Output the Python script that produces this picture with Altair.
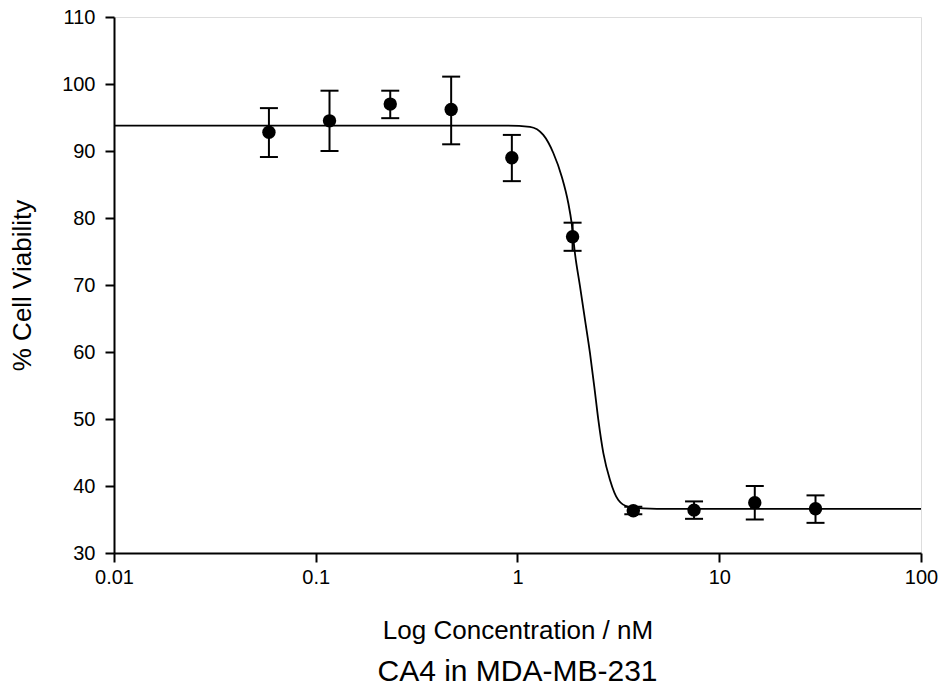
import altair as alt
import pandas as pd

# Measured points
conc = [0.0586, 0.117, 0.234, 0.469, 0.9375, 1.875, 3.75, 7.5, 15, 30]
viab = [92.8, 94.5, 97.0, 96.2, 89.0, 77.2, 36.3, 36.4, 37.5, 36.6]
err_hi = [96.4, 99.0, 99.0, 101.1, 92.4, 79.3, 36.9, 37.7, 40.0, 38.6]
err_lo = [89.1, 90.0, 94.9, 91.0, 85.5, 75.1, 35.8, 35.1, 35.0, 34.5]

# Fitted curve, points
curve_x = [0.01, 0.1, 0.5, 0.9, 1.153, 1.342, 1.505, 1.656, 1.786, 1.856, 1.927,
           2.041, 2.161, 2.288, 2.403, 2.515, 2.664, 2.874, 3.16, 3.54, 4.2,
           4.91, 10, 100]
curve_y = [93.8, 93.8, 93.8, 93.8, 93.6, 92.4, 89.7, 86.2, 82.2, 79.2, 74.7,
           69.8, 64.8, 59.8, 54.8, 49.9, 44.9, 40.9, 37.9, 36.9, 36.65,
           36.6, 36.6, 36.6]

x_ticks = [0.01, 0.1, 1, 10, 100]
y_ticks = [30, 40, 50, 60, 70, 80, 90, 100, 110]

pts = pd.DataFrame({"conc": conc, "viab": viab, "hi": err_hi, "lo": err_lo})
cur = pd.DataFrame({"conc": curve_x, "viab": curve_y})

FONT = "Liberation Sans"

xscale = alt.Scale(type="log", domain=[0.01, 100], nice=False)
yscale = alt.Scale(domain=[30, 110], nice=False, zero=False)

xaxis = alt.Axis(values=x_ticks, format="~g", title="Log Concentration / nM",
                 grid=False, tickSize=9, tickWidth=2, tickColor="black",
                 domainColor="black", domainWidth=2, labelFontSize=20,
                 labelFont=FONT, labelColor="black", labelPadding=5,
                 titleFont=FONT, titleFontSize=26, titleFontWeight="normal",
                 titleColor="black", titleY=77, titleBaseline="middle",
                 labelFlush=False, labelOverlap=False)
yaxis = alt.Axis(values=y_ticks, format="d", title="% Cell Viability",
                 grid=False, tickSize=9, tickWidth=2, tickColor="black",
                 domainColor="black", domainWidth=2, labelFontSize=20,
                 labelFont=FONT, labelColor="black", labelPadding=10,
                 titleFont=FONT, titleFontSize=26, titleFontWeight="normal",
                 titleColor="black", titleX=-92, titleBaseline="middle",
                 titleAngle=270, labelFlush=False, labelOverlap=False)

line = alt.Chart(cur).mark_line(color="black", strokeWidth=1.8,
                                interpolate="monotone").encode(
    x=alt.X("conc:Q", scale=xscale, axis=xaxis),
    y=alt.Y("viab:Q", scale=yscale, axis=yaxis),
)

bars = alt.Chart(pts).mark_rule(color="black", strokeWidth=2).encode(
    x=alt.X("conc:Q", scale=xscale),
    y=alt.Y("lo:Q", scale=yscale),
    y2="hi:Q",
)
cap_hi = alt.Chart(pts).mark_tick(color="black", thickness=2, size=18,
                                  orient="horizontal", opacity=1).encode(
    x=alt.X("conc:Q", scale=xscale),
    y=alt.Y("hi:Q", scale=yscale),
)
cap_lo = alt.Chart(pts).mark_tick(color="black", thickness=2, size=18,
                                  orient="horizontal", opacity=1).encode(
    x=alt.X("conc:Q", scale=xscale),
    y=alt.Y("lo:Q", scale=yscale),
)
dots = alt.Chart(pts).mark_circle(color="black", opacity=1, size=180).encode(
    x=alt.X("conc:Q", scale=xscale),
    y=alt.Y("viab:Q", scale=yscale),
)

chart = alt.layer(line, bars, cap_hi, cap_lo, dots).properties(
    width=807, height=536,
    autosize=alt.AutoSizeParams(type="none"),
    padding={"left": 114, "top": 17, "right": 24, "bottom": 134},
    title=alt.TitleParams("CA4 in MDA-MB-231", orient="bottom", fontSize=30,
                          font=FONT, fontWeight="normal", color="black",
                          offset=14),
).configure_view(stroke="black", strokeWidth=2).configure(background="white")

chart.save("out.html", embed_options={"renderer": "svg", "actions": False})
